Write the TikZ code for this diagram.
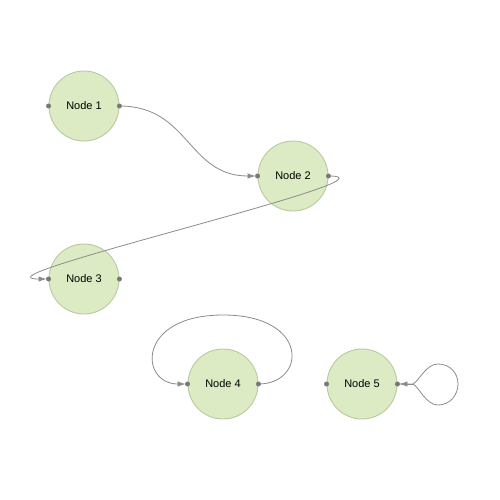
\documentclass[tikz,border=0pt]{standalone}
\usepackage{fontspec}
\setmainfont{Liberation Sans}
\usetikzlibrary{arrows.meta}
\definecolor{nodefill}{RGB}{221,235,197}
\definecolor{nodeborder}{RGB}{184,201,160}
\definecolor{edgecol}{RGB}{140,140,140}
\definecolor{portcol}{RGB}{120,120,120}
\tikzset{
  gnode/.style={circle, minimum size=70pt, inner sep=0pt, fill=nodefill, draw=nodeborder, line width=0.9pt, font=\fontsize{11}{13}\selectfont},
  edge/.style={draw=edgecol, line width=0.8pt},
  arr/.style={edge, shorten >=2pt, -{Latex[length=8pt,width=5.5pt]}},
  portdot/.style={fill=portcol, draw=none}
}
\begin{document}
\begin{tikzpicture}[x=1pt,y=-1pt]
\useasboundingbox (0,0) rectangle (500,500);
\fill[white] (0,0) rectangle (500,500);
\node[gnode] (n1) at (84,106) {Node 1};
\node[gnode] (n2) at (293,176) {Node 2};
\node[gnode] (n3) at (84,279) {Node 3};
\node[gnode] (n4) at (223,384) {Node 4};
\node[gnode] (n5) at (362,384) {Node 5};
\coordinate (t4) at (223,315);
\coordinate (l5a) at (438,364);
\coordinate (l5b) at (458,384);
\coordinate (l5c) at (438,405);
\coordinate (l5s) at (413,384);
% edges
\draw[arr] (n1.east) .. controls +(70,0) and +(-70,0) .. (n2.west);
\draw[arr] (n2.east) .. controls +(85,0) and +(-85,0) .. (n3.west);
\draw[arr] (n4.east) .. controls +(48,0) and (310,315) .. (t4) .. controls (136,315) and +(-48,0) .. (n4.west);
\draw[edge] (n5.east) -- (l5s) .. controls +(6,-3) and +(-12,0) .. (l5a) .. controls +(12,0) and +(0,-11) .. (l5b) .. controls +(0,11) and +(12,0) .. (l5c) .. controls +(-12,0) and +(6,3) .. (l5s);
\draw[arr] (l5s) -- (n5.east);
% ports
\foreach \n in {n1,n2,n3,n4,n5}{
  \fill[portdot] (\n.west) circle (2.5pt);
  \fill[portdot] (\n.east) circle (2.5pt);
}
\end{tikzpicture}
\end{document}
